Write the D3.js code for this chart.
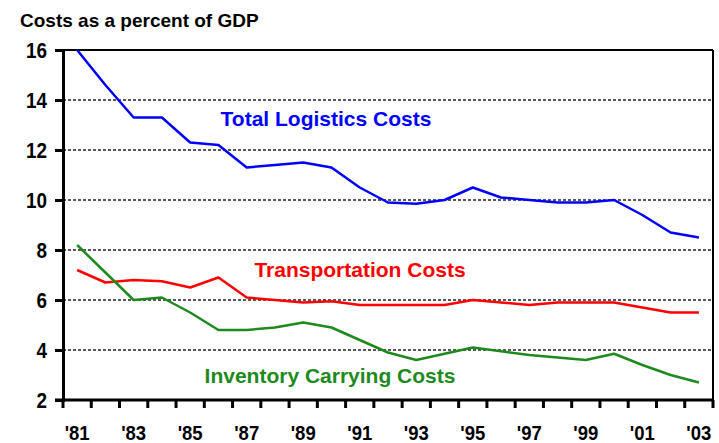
<html>
<head>
<script src="https://d3js.org/d3.v7.min.js"></script>
<style>
  body { margin: 0; background: #fff; }
  text { font-family: "Liberation Sans", Arial, sans-serif; font-weight: bold; }
</style>
</head>
<body>
<svg width="719" height="443"></svg>
<script>
var years = ["'81","'82","'83","'84","'85","'86","'87","'88","'89","'90","'91","'92","'93","'94","'95","'96","'97","'98","'99","'00","'01","'02","'03"];
var yearLabels = ["'81","'83","'85","'87","'89","'91","'93","'95","'97","'99","'01","'03"];
var totalLogistics = [16.0,14.6,13.3,13.3,12.3,12.2,11.3,11.4,11.5,11.3,10.5,9.9,9.85,10.0,10.5,10.1,10.0,9.9,9.9,10.0,9.4,8.7,8.5];
var transportation = [7.2,6.7,6.8,6.75,6.5,6.9,6.1,6.0,5.9,5.95,5.8,5.8,5.8,5.8,6.0,5.9,5.8,5.9,5.9,5.9,5.7,5.5,5.5];
var inventory = [8.2,7.1,6.0,6.1,5.5,4.8,4.8,4.9,5.1,4.9,4.4,3.9,3.6,3.85,4.1,3.95,3.8,3.7,3.6,3.85,3.4,3.0,2.7];
var yTicks = [2,4,6,8,10,12,14,16];

var svg = d3.select("svg"),
    margin = {top: 50, left: 63, bottom: 43, right: 6},
    width = +svg.attr("width") - margin.left - margin.right,
    height = +svg.attr("height") - margin.top - margin.bottom,
    g = svg.append("g").attr("transform", "translate(" + margin.left + "," + margin.top + ")");

var x = d3.scaleBand().domain(years).range([0, width]);
var y = d3.scaleLinear().domain([2, 16]).range([height, 0]);

svg.append("text")
  .attr("x", 20).attr("y", 27)
  .attr("font-size", 19)
  .text("Costs as a percent of GDP");

// dotted gridlines
g.selectAll(".grid")
  .data(yTicks.filter(function(d) { return d > 2 && d < 16; }))
  .enter().append("line")
  .attr("x1", 0).attr("x2", width)
  .attr("y1", function(d) { return y(d); })
  .attr("y2", function(d) { return y(d); })
  .attr("stroke", "#222")
  .attr("stroke-width", 1.5)
  .attr("stroke-dasharray", "3,2");

// frame top + right
g.append("line").attr("x1", 0).attr("x2", width).attr("y1", 0).attr("y2", 0)
  .attr("stroke", "#000").attr("stroke-width", 2);
g.append("line").attr("x1", width).attr("x2", width).attr("y1", 0).attr("y2", height)
  .attr("stroke", "#000").attr("stroke-width", 2);

// y axis
var yAxis = g.append("g")
  .call(d3.axisLeft(y).tickValues(yTicks).tickSize(8).tickPadding(8));
yAxis.select(".domain").attr("stroke-width", 3);
yAxis.selectAll(".tick line").attr("stroke-width", 3);
yAxis.selectAll("text")
  .attr("font-size", 22)
  .attr("fill", "#000")
  .attr("textLength", function(d) { return String(d).length * 10.5; })
  .attr("lengthAdjust", "spacingAndGlyphs");

// x axis with ticks at band edges
var xAxis = g.append("g").attr("transform", "translate(0," + height + ")");
xAxis.append("line").attr("x1", -8).attr("x2", width).attr("stroke", "#000").attr("stroke-width", 3);
xAxis.selectAll(".xt")
  .data(years.concat(["end"]))
  .enter().append("line")
  .attr("x1", function(d, i) { return i < years.length ? x(d) : width; })
  .attr("x2", function(d, i) { return i < years.length ? x(d) : width; })
  .attr("y1", 0).attr("y2", 8)
  .attr("stroke", "#000").attr("stroke-width", 3);
xAxis.selectAll(".xl")
  .data(yearLabels)
  .enter().append("text")
  .attr("x", function(d) { return x(d) + x.bandwidth() / 2; })
  .attr("y", 40)
  .attr("text-anchor", "middle")
  .attr("font-size", 20)
  .attr("textLength", 25)
  .attr("lengthAdjust", "spacingAndGlyphs")
  .text(function(d) { return d; });

var line = d3.line()
  .x(function(d, i) { return x(years[i]) + x.bandwidth() / 2; })
  .y(function(d) { return y(d); });

var series = [
  {values: totalLogistics, color: "#0000ff", name: "Total Logistics Costs", lx: 326, ly: 12.95},
  {values: transportation, color: "#ff0000", name: "Transportation Costs", lx: 360, ly: 6.92},
  {values: inventory, color: "#1e8a1e", name: "Inventory Carrying Costs", lx: 330, ly: 2.68}
];

series.forEach(function(s) {
  svg.append("path")
    .datum(s.values)
    .attr("transform", "translate(" + margin.left + "," + margin.top + ")")
    .attr("fill", "none")
    .attr("stroke", s.color)
    .attr("stroke-width", 2.5)
    .attr("stroke-linejoin", "round")
    .attr("d", line);
  svg.append("text")
    .attr("x", s.lx)
    .attr("y", margin.top + y(s.ly))
    .attr("text-anchor", "middle")
    .attr("font-size", 21)
    .attr("fill", s.color)
    .text(s.name);
});
</script>
</body>
</html>
